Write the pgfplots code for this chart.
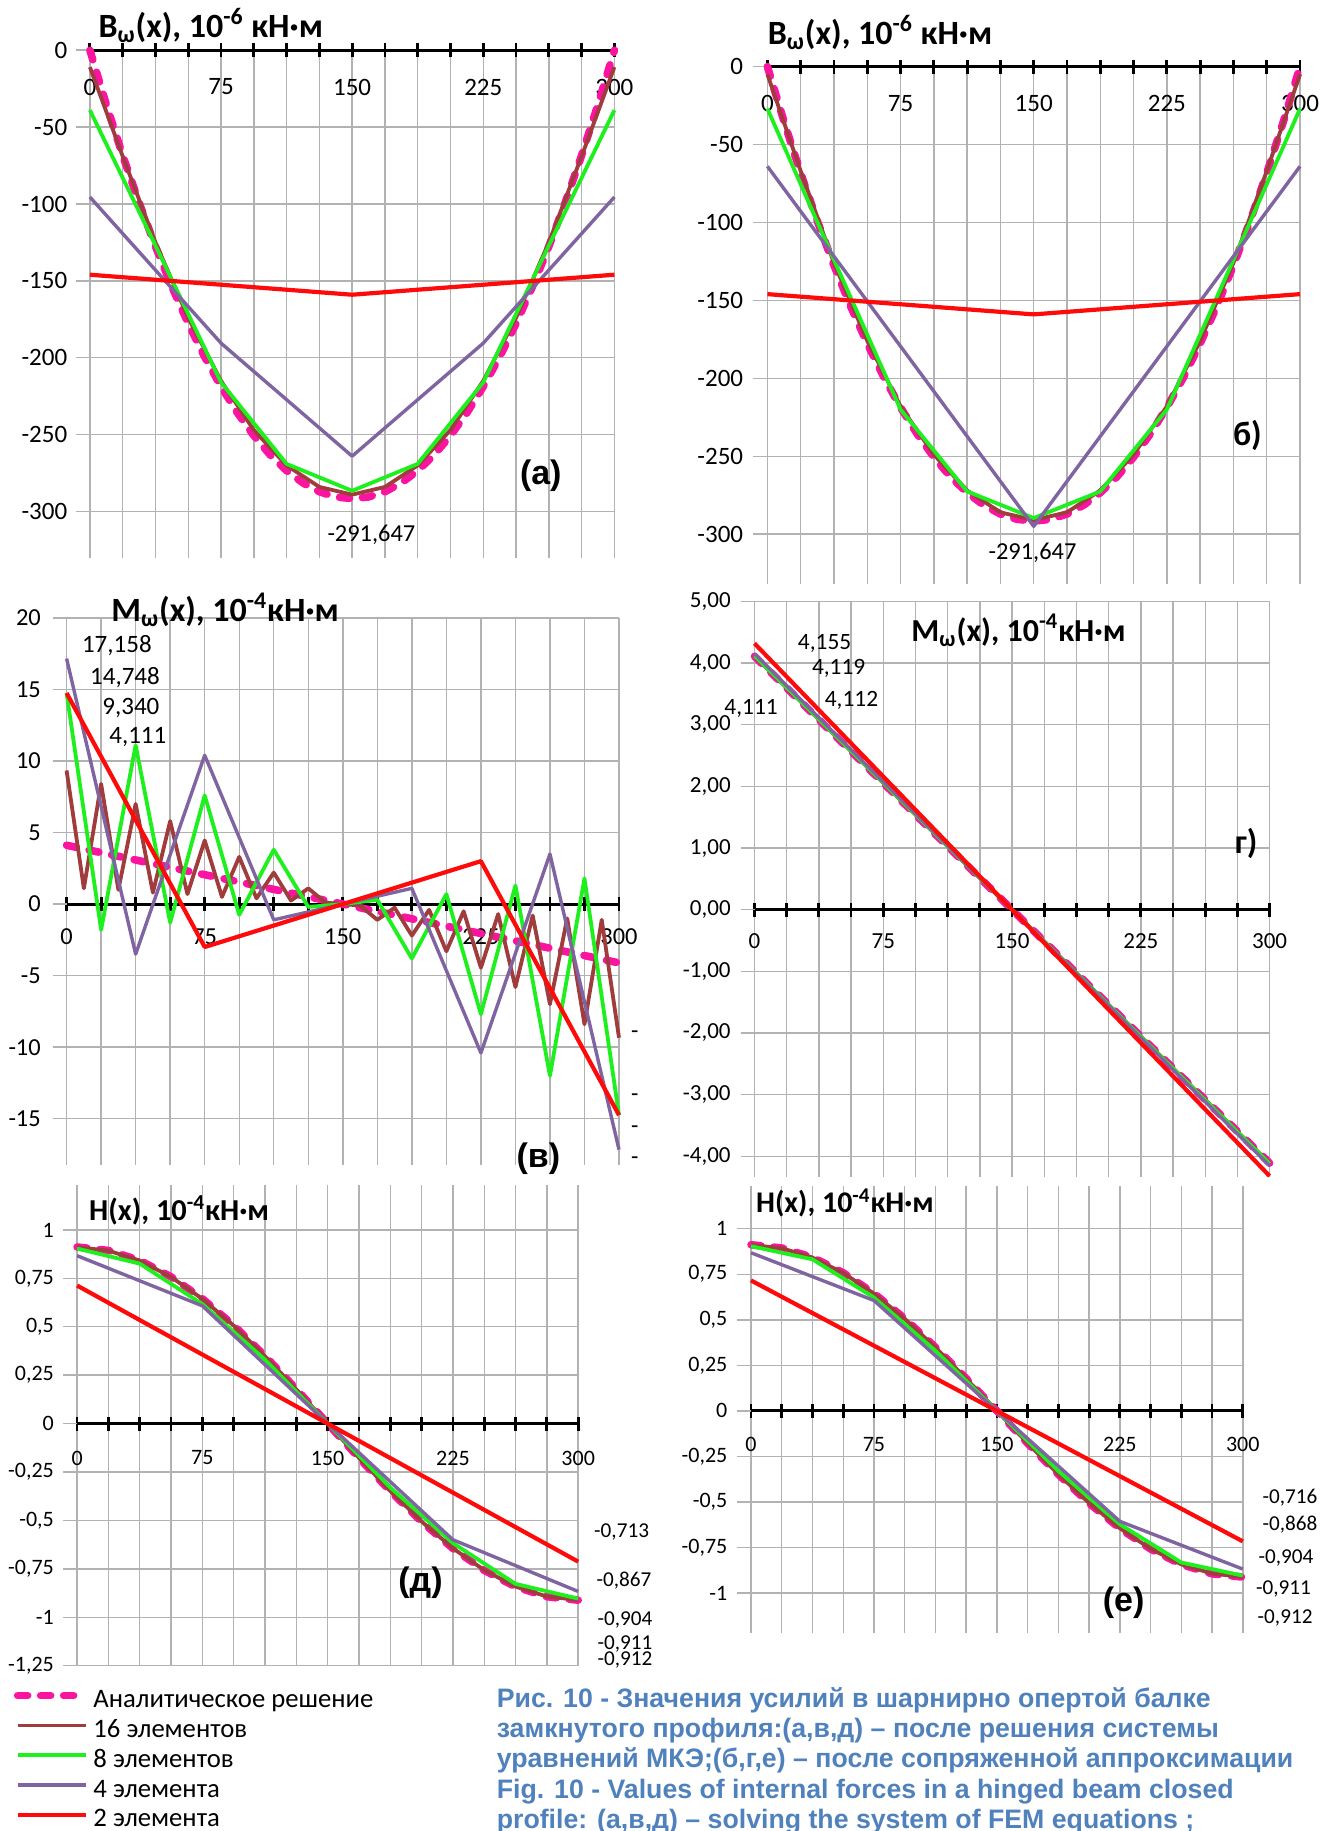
\documentclass[border=0pt]{standalone}
\usepackage{fontspec}
\setmainfont{Carlito}
\newfontfamily\arialf{Liberation Sans}
\usepackage{pgfplots}
\pgfplotsset{compat=1.18}

\definecolor{cAn}{RGB}{250,20,160}
\definecolor{c16}{RGB}{160,60,60}
\definecolor{c8}{RGB}{30,240,30}
\definecolor{c4}{RGB}{128,100,162}
\definecolor{c2}{RGB}{255,10,10}
\definecolor{capblue}{RGB}{79,129,189}

\newcommand{\fs}[1]{\fontsize{#1}{#1}\selectfont}
\newcommand{\ttl}{\fontsize{17}{20}\selectfont\bfseries}
\newcommand{\plab}{\arialf\fontsize{17}{20}\selectfont\bfseries}

\tikzset{ttlnode/.style={anchor=west, inner sep=0pt}}

\pgfplotsset{
  panel/.style={
    scale only axis, clip=false,
    xmin=0, xmax=300,
    axis x line=middle, axis y line=left,
    axis line style={-},
    x axis line style={black, line width=1.5pt},
    y axis line style={draw=none},
    xtick={0,75,...,300}, minor x tick num=3,
    xmajorgrids=true, xminorgrids=true, ymajorgrids=true,
    grid style={black!30, line width=0.7pt},
    minor grid style={black!30, line width=0.7pt},
    tick align=center, major tick length=7pt, minor tick length=7pt,
    every tick/.style={black, line width=1.4pt},
    ytick style={black!30, line width=0.7pt, xshift=-3.5pt},
    hide obscured x ticks=false, hide obscured y ticks=false,
    /pgf/number format/assume math mode=true,
    /pgf/number format/use comma,
    no markers,
  },
  an/.style={cAn, line width=3.8pt, dash pattern=on 5pt off 6.5pt, line cap=round, line join=round},
  e16/.style={c16, line width=1.9pt, line join=round},
  e8/.style={c8, line width=1.9pt, line join=round},
  e4/.style={c4, line width=1.7pt, line join=round},
  e2/.style={c2, line width=2.1pt, line join=round},
}

\begin{document}
\begin{tikzpicture}
% ---------------- (a)
\begin{axis}[panel, at={(44.95pt,-279.15pt)}, anchor=south west,
  width=262.25pt, height=254.05pt, ymin=-330.4, ymax=0,
  tick label style={font=\fs{12.5}},
  ytick={-300,-250,...,0}, yticklabel style={xshift=-4.3pt}, xticklabel style={yshift=-7.3pt}]
\addplot[an] coordinates {(0,0) (9.375,-35.3) (18.75,-68.4) (28.125,-99.1) (37.5,-127.6) (46.875,-153.8) (56.25,-177.7) (65.625,-199.4) (75,-218.7) (84.375,-235.8) (93.75,-250.6) (103.125,-263.2) (112.5,-273.4) (121.875,-281.4) (131.25,-287.1) (140.625,-290.5) (150,-291.6) (159.375,-290.5) (168.75,-287.1) (178.125,-281.4) (187.5,-273.4) (196.875,-263.2) (206.25,-250.6) (215.625,-235.8) (225,-218.7) (234.375,-199.4) (243.75,-177.7) (253.125,-153.8) (262.5,-127.6) (271.875,-99.1) (281.25,-68.4) (290.625,-35.3) (300,0)};
\addplot[e16] coordinates {(0,-11) (18.75,-69) (37.5,-125) (56.25,-174) (75,-215) (93.75,-247) (112.5,-270) (131.25,-284) (150,-289) (168.75,-284) (187.5,-270) (206.25,-247) (225,-215) (243.75,-174) (262.5,-125) (281.25,-69) (300,-11)};
\addplot[e8] coordinates {(0,-39) (37.5,-127) (75,-216) (112.5,-269) (150,-286.5) (187.5,-269) (225,-216) (262.5,-127) (300,-39)};
\addplot[e4] coordinates {(0,-95.5) (75,-190.5) (150,-264) (225,-190.5) (300,-95.5)};
\addplot[e2] coordinates {(0,-146) (150,-159) (300,-146)};
\node[ttlnode,font=\ttl] at (axis cs:4.7,16) {B\textsubscript{ω}(x), 10\textsuperscript{-6} кН·м};
\node[font=\fs{12.2}] at (axis cs:161,-315.3) {-291,647};
\node[font=\plab] at (axis cs:257.9,-276.6) {(a)};
\end{axis}
% ---------------- (b)
\begin{axis}[panel, at={(383.7pt,-292pt)}, anchor=south west,
  width=266.3pt, height=258.7pt, ymin=-332, ymax=0,
  tick label style={font=\fs{12.5}},
  ytick={-300,-250,...,0}, yticklabel style={xshift=-5.1pt}, xticklabel style={yshift=-7.3pt}]
\addplot[an] coordinates {(0,0) (9.375,-35.3) (18.75,-68.4) (28.125,-99.1) (37.5,-127.6) (46.875,-153.8) (56.25,-177.7) (65.625,-199.4) (75,-218.7) (84.375,-235.8) (93.75,-250.6) (103.125,-263.2) (112.5,-273.4) (121.875,-281.4) (131.25,-287.1) (140.625,-290.5) (150,-291.6) (159.375,-290.5) (168.75,-287.1) (178.125,-281.4) (187.5,-273.4) (196.875,-263.2) (206.25,-250.6) (215.625,-235.8) (225,-218.7) (234.375,-199.4) (243.75,-177.7) (253.125,-153.8) (262.5,-127.6) (271.875,-99.1) (281.25,-68.4) (290.625,-35.3) (300,0)};
\addplot[e16] coordinates {(0,-5) (18.75,-67) (37.5,-126) (56.25,-176) (75,-218) (93.75,-249) (112.5,-272) (131.25,-286) (150,-291) (168.75,-286) (187.5,-272) (206.25,-249) (225,-218) (243.75,-176) (262.5,-126) (281.25,-67) (300,-5)};
\addplot[e8] coordinates {(0,-27) (37.5,-124) (75,-220) (112.5,-272.6) (150,-289.7) (187.5,-272.6) (225,-220) (262.5,-124) (300,-27)};
\addplot[e4] coordinates {(0,-64) (75,-179.5) (150,-295) (225,-179.5) (300,-64)};
\addplot[e2] coordinates {(0,-146) (150,-159) (300,-146)};
\node[ttlnode,font=\ttl] at (axis cs:0,21.7) {B\textsubscript{ω}(x), 10\textsuperscript{-6} кН·м};
\node[font=\fs{12.2}] at (axis cs:149.3,-311.9) {-291,647};
\node[font=\ttl] at (axis cs:270.4,-236.9) {б)};
\end{axis}
% ---------------- (v)
\begin{axis}[panel, at={(33.3pt,-582.25pt)}, anchor=south west,
  width=276.2pt, height=273.3pt, ymin=-18.2, ymax=20,
  tick label style={font=\fs{12.2}},
  ytick={-15,-10,...,20}, yticklabel style={xshift=-5.9pt}, xticklabel style={yshift=-5.2pt}]
\addplot[an] coordinates {(0,4.111) (150,0) (300,-4.111)};
\addplot[e16] coordinates {(0,9.34) (9.375,1.1) (18.75,8.4) (28.125,1.0) (37.5,7.0) (46.875,0.8) (56.25,5.8) (65.625,0.7) (75,4.45) (84.375,0.5) (93.75,3.3) (103.125,0.4) (112.5,2.2) (121.875,0.25) (131.25,1.1) (140.625,0.1) (150,0) (159.375,-0.1) (168.75,-1.1) (178.125,-0.25) (187.5,-2.2) (196.875,-0.4) (206.25,-3.3) (215.625,-0.5) (225,-4.45) (234.375,-0.7) (243.75,-5.8) (253.125,-0.8) (262.5,-7.0) (271.875,-1.0) (281.25,-8.4) (290.625,-1.1) (300,-9.34)};
\addplot[e8] coordinates {(0,14.748) (18.75,-1.8) (37.5,11.1) (56.25,-1.3) (75,7.6) (93.75,-0.75) (112.5,3.8) (131.25,-0.2) (150,0) (168.75,0.3) (187.5,-3.8) (206.25,0.7) (225,-7.7) (243.75,1.3) (262.5,-12.0) (281.25,1.8) (300,-14.748)};
\addplot[e4] coordinates {(0,17.158) (37.5,-3.5) (75,10.4) (112.5,-1.1) (187.5,1.1) (225,-10.4) (262.5,3.5) (300,-17.158)};
\addplot[e2] coordinates {(0,14.748) (75,-3.0) (225,3.0) (300,-14.748)};
\node[ttlnode,font=\ttl] at (axis cs:24.1,20.55) {M\textsubscript{ω}(x), 10\textsuperscript{-4}кН·м};
\node[font=\fs{12.5}] at (axis cs:27.3,18.1) {17,158};
\node[font=\fs{12.5}] at (axis cs:31.7,15.8) {14,748};
\node[font=\fs{12.5}] at (axis cs:34.9,13.7) {9,340};
\node[font=\fs{12.5}] at (axis cs:38.7,11.66) {4,111};
\node[font=\fs{12}] at (axis cs:308.6,-9.15) {-};
\node[font=\fs{12}] at (axis cs:308.6,-13.55) {-};
\node[font=\fs{12}] at (axis cs:308.6,-15.8) {-};
\node[font=\fs{12}] at (axis cs:308.6,-17.95) {-};
\node[font=\plab] at (axis cs:256.2,-17.8) {(в)};
\end{axis}
% ---------------- (g)
\begin{axis}[panel, at={(377.25pt,-588.3pt)}, anchor=south west,
  width=257.55pt, height=287.55pt, ymin=-4.33, ymax=5,
  tick label style={font=\fs{11.5}},
  ytick={-4,-3,...,5}, yticklabel style={xshift=-4.9pt, /pgf/number format/.cd, fixed, fixed zerofill, precision=2, use comma},
  xticklabel style={yshift=-5.1pt}]
\addplot[an] coordinates {(0,4.111) (150,0) (300,-4.111)};
\addplot[e16] coordinates {(0,4.112) (150,0) (300,-4.112)};
\addplot[e8] coordinates {(0,4.119) (150,0) (300,-4.119)};
\addplot[e4] coordinates {(0,4.155) (150,0) (300,-4.155)};
\addplot[e2] coordinates {(0,4.32) (150,0) (300,-4.32)};
\node[ttlnode,font=\fontsize{16}{19}\selectfont\bfseries] at (axis cs:91.2,4.53) {M\textsubscript{ω}(x), 10\textsuperscript{-4}кН·м};
\node[font=\fs{11.7}] at (axis cs:40.8,4.32) {4,155};
\node[font=\fs{11.7}] at (axis cs:49.0,3.92) {4,119};
\node[font=\fs{11.7}] at (axis cs:56.5,3.39) {4,112};
\node[font=\fs{11.7}] at (axis cs:-2.0,3.26) {4,111};
\node[font=\ttl] at (axis cs:286.4,1.08) {г)};
\end{axis}
% ---------------- (d)
\begin{axis}[panel, at={(38.55pt,-832.8pt)}, anchor=south west,
  width=250.55pt, height=240.1pt, ymin=-1.25, ymax=1.23,
  tick label style={font=\fs{11}},
  ytick={-1.25,-1,-0.75,-0.5,-0.25,0,0.25,0.5,0.75,1},
  yticklabel style={xshift=-4.6pt}, xticklabel style={yshift=-6.6pt},
  legend style={at={(-0.127,-0.0445)}, anchor=north west, draw=none, fill=none,
    inner sep=0pt, row sep=0pt, column sep=2pt,
    font=\fontsize{13.35}{15}\selectfont,
    nodes={inner sep=0pt, text height=10.2pt, text depth=4.7pt}},
  legend cell align=left,
  legend image code/.code={\draw[#1] (0pt,3.3pt) -- (34pt,3.3pt);}]
\addplot[an] coordinates {(0,0.912) (18.75,0.894) (37.5,0.843) (56.25,0.758) (75,0.645) (93.75,0.507) (112.5,0.349) (131.25,0.178) (150,0) (168.75,-0.178) (187.5,-0.349) (206.25,-0.507) (225,-0.645) (243.75,-0.758) (262.5,-0.843) (281.25,-0.894) (300,-0.912)};
\addlegendentry{Аналитическое решение}
\addplot[e16] coordinates {(0,0.911) (18.75,0.893) (37.5,0.842) (56.25,0.757) (75,0.644) (93.75,0.506) (112.5,0.348) (131.25,0.177) (150,0) (168.75,-0.177) (187.5,-0.348) (206.25,-0.506) (225,-0.644) (243.75,-0.757) (262.5,-0.842) (281.25,-0.893) (300,-0.911)};
\addlegendentry{16 элементов}
\addplot[e8] coordinates {(0,0.904) (37.5,0.826) (75,0.617) (112.5,0.33) (150,0) (187.5,-0.33) (225,-0.617) (262.5,-0.828) (300,-0.904)};
\addlegendentry{8 элементов}
\addplot[e4] coordinates {(0,0.867) (75,0.608) (150,0) (225,-0.6) (300,-0.867)};
\addlegendentry{4 элемента}
\addplot[e2] coordinates {(0,0.713) (150,0) (300,-0.713)};
\addlegendentry{2 элемента}
\node[ttlnode,font=\fontsize{15.2}{18}\selectfont\bfseries] at (axis cs:7,1.10) {H(x), 10\textsuperscript{-4}кН·м};
\node[font=\fs{10.6}] at (axis cs:326.0,-0.559) {-0,713};
\node[font=\fs{10.6}] at (axis cs:327.4,-0.812) {-0,867};
\node[font=\fs{10.6}] at (axis cs:328,-1.015) {-0,904};
\node[font=\fs{10.6}] at (axis cs:328,-1.140) {-0,911};
\node[font=\fs{10.6}] at (axis cs:328,-1.222) {-0,912};
\node[font=\plab] at (axis cs:205.6,-0.821) {(д)};
\end{axis}
% ---------------- (e)
\begin{axis}[panel, at={(375.5pt,-816.6pt)}, anchor=south west,
  width=245.9pt, height=223.85pt, ymin=-1.22, ymax=1.237,
  tick label style={font=\fs{11}},
  ytick={-1,-0.75,-0.5,-0.25,0,0.25,0.5,0.75,1},
  yticklabel style={xshift=-4.8pt}, xticklabel style={yshift=-6pt}]
\addplot[an] coordinates {(0,0.912) (18.75,0.894) (37.5,0.843) (56.25,0.758) (75,0.645) (93.75,0.507) (112.5,0.349) (131.25,0.178) (150,0) (168.75,-0.178) (187.5,-0.349) (206.25,-0.507) (225,-0.645) (243.75,-0.758) (262.5,-0.843) (281.25,-0.894) (300,-0.912)};
\addplot[e16] coordinates {(0,0.911) (18.75,0.893) (37.5,0.842) (56.25,0.757) (75,0.644) (93.75,0.506) (112.5,0.348) (131.25,0.177) (150,0) (168.75,-0.177) (187.5,-0.348) (206.25,-0.506) (225,-0.644) (243.75,-0.757) (262.5,-0.842) (281.25,-0.893) (300,-0.911)};
\addplot[e8] coordinates {(0,0.904) (37.5,0.832) (75,0.622) (112.5,0.33) (150,0) (187.5,-0.33) (225,-0.622) (262.5,-0.832) (300,-0.904)};
\addplot[e4] coordinates {(0,0.868) (75,0.606) (150,0) (225,-0.606) (300,-0.868)};
\addplot[e2] coordinates {(0,0.716) (150,0) (300,-0.716)};
\node[ttlnode,font=\fontsize{15}{18}\selectfont\bfseries] at (axis cs:2.9,1.141) {H(x), 10\textsuperscript{-4}кН·м};
\node[font=\fs{10.6}] at (axis cs:328.8,-0.479) {-0,716};
\node[font=\fs{10.6}] at (axis cs:328.8,-0.626) {-0,868};
\node[font=\fs{10.6}] at (axis cs:326.4,-0.809) {-0,904};
\node[font=\fs{10.6}] at (axis cs:324.8,-0.977) {-0,911};
\node[font=\fs{10.6}] at (axis cs:325.8,-1.138) {-0,912};
\node[font=\plab] at (axis cs:227.3,-1.05) {(е)};
\end{axis}
% ---------------- caption
\node[anchor=north west, align=left, inner sep=0pt, text=capblue,
  font=\arialf\bfseries\fontsize{13.35}{15.2}\selectfont] at (248.2pt,-843.4pt)
 {Рис. 10 - Значения усилий в шарнирно опертой балке\\
  замкнутого профиля:(а,в,д) – после решения системы\\
  уравнений МКЭ;(б,г,е) – после сопряженной аппроксимации\\
  Fig. 10 - Values of internal forces in a hinged beam closed\\
  profile: (а,в,д) – solving the system of FEM equations ;};
\pgfresetboundingbox
\useasboundingbox (0pt,0pt) rectangle (667.5pt,-915.5pt);
\end{tikzpicture}
\end{document}
